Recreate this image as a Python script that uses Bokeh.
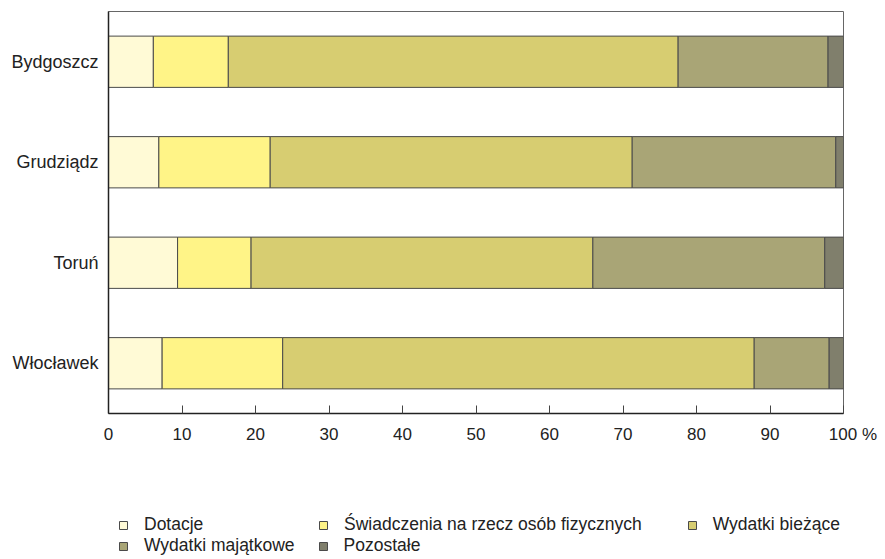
from bokeh.plotting import figure
from bokeh.models import ColumnDataSource, FactorRange, Range1d, Legend, LegendItem, FixedTicker
from bokeh.layouts import column
from bokeh.embed import file_html
from bokeh.resources import INLINE

cities = ["Bydgoszcz", "Grudziądz", "Toruń", "Włocławek"]
dotacje = [6.1, 6.85, 9.4, 7.3]
swiadczenia = [10.2, 15.15, 10.0, 16.4]
biezace = [61.2, 49.25, 46.5, 64.15]
majatkowe = [20.4, 27.7, 31.55, 10.2]
pozostale = [2.1, 1.05, 2.55, 1.95]

labels = ["Dotacje", "Świadczenia na rzecz osób fizycznych", "Wydatki bieżące",
          "Wydatki majątkowe", "Pozostałe"]
colors = ["#FFFAD6", "#FFF487", "#D7CD71", "#A9A576", "#807F6C"]
keys = ["dotacje", "swiadczenia", "biezace", "majatkowe", "pozostale"]
x_ticks = [0, 10, 20, 30, 40, 50, 60, 70, 80, 90, 100]
x_tick_labels = {t: str(t) for t in x_ticks}
x_tick_labels[100] = "\u00a0\u00a0\u00a0\u00a0100\u00a0%"

source = ColumnDataSource(dict(city=cities, dotacje=dotacje, swiadczenia=swiadczenia,
                               biezace=biezace, majatkowe=majatkowe, pozostale=pozostale))

FONT = "Liberation Sans"
TEXT = "#222222"
EDGE = "#4a4a4a"

# ---- main chart ----
p = figure(width=885, height=448, output_backend="svg", toolbar_location=None, title=None,
           y_range=FactorRange(factors=cities[::-1], range_padding=0),
           x_range=Range1d(0, 100),
           min_border_left=108, min_border_right=42, min_border_top=11, min_border_bottom=35)

p.hbar_stack(keys, y="city", height=0.51, color=colors, source=source,
             line_color=EDGE, line_width=1)

p.xgrid.visible = False
p.ygrid.visible = False
p.outline_line_color = "#666666"
p.outline_line_width = 1
p.background_fill_color = "white"
p.border_fill_color = "white"

xa = p.xaxis[0]
xa.ticker = FixedTicker(ticks=x_ticks)
xa.major_label_overrides = x_tick_labels
xa.axis_line_color = TEXT
xa.axis_line_width = 1.5
xa.major_tick_in = 8
xa.major_tick_out = 0
xa.major_tick_line_color = "#444444"
xa.minor_tick_line_color = None
xa.major_label_text_font = FONT
xa.major_label_text_font_size = "17px"
xa.major_label_text_color = TEXT
xa.major_label_standoff = 11

ya = p.yaxis[0]
ya.axis_line_color = TEXT
ya.axis_line_width = 1.5
ya.major_tick_in = 0
ya.major_tick_out = 0
ya.major_tick_line_color = None
ya.minor_tick_line_color = None
ya.major_label_text_font = FONT
ya.major_label_text_font_size = "18px"
ya.major_label_text_color = TEXT
ya.major_label_standoff = 10

# ---- legend panel (hidden copies of the stacked bars feed the legend) ----
q = figure(width=885, height=111, output_backend="svg", toolbar_location=None, title=None,
           y_range=FactorRange(factors=cities[::-1]), x_range=Range1d(0, 100),
           x_axis_type=None, y_axis_type=None,
           min_border_left=108, min_border_right=42, min_border_top=0, min_border_bottom=0)
q.xgrid.visible = False
q.ygrid.visible = False
q.outline_line_color = None
q.background_fill_color = "white"
q.border_fill_color = "white"
lr = q.hbar_stack(keys, y="city", height=0.51, color=colors, source=source,
                  line_color=EDGE, line_width=1)
for r in lr:
    r.visible = False

common = dict(orientation="horizontal", glyph_width=10, glyph_height=10, label_standoff=16,
              padding=0, margin=0, border_line_color=None, background_fill_alpha=0,
              label_text_font=FONT, label_text_font_size="17.5px", label_text_color=TEXT,
              label_height=20, inactive_fill_alpha=0)
row1 = Legend(items=[LegendItem(label=labels[i], renderers=[lr[i]]) for i in range(3)],
              location=(10, 24), spacing=45, label_width=129, **common)
row2 = Legend(items=[LegendItem(label=labels[i], renderers=[lr[i]]) for i in range(3, 5)],
              location=(10, 3), spacing=23, **common)
q.add_layout(row1, "center")
q.add_layout(row2, "center")

layout = column(p, q, spacing=0)
open("out.html", "w").write(file_html(layout, INLINE))
